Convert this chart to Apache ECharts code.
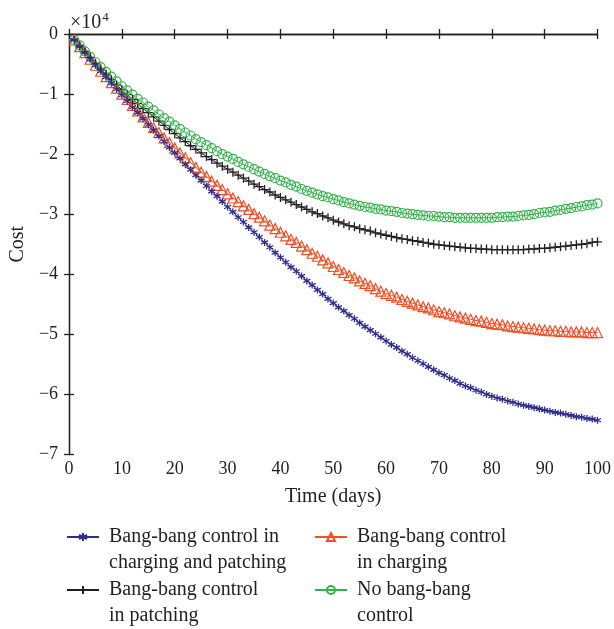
<!DOCTYPE html>
<html>
<head>
<meta charset="utf-8">
<script src="https://cdn.jsdelivr.net/npm/echarts@6/dist/echarts.min.js"></script>
<style>html,body{margin:0;padding:0;background:#fff}#c{width:614px;height:629px}</style>
</head>
<body>
<div id="c"></div>
<script>
// Days 1..100
const days = [1,2,3,4,5,6,7,8,9,10,11,12,13,14,15,16,17,18,19,20,21,22,23,24,25,26,27,28,29,30,31,32,33,34,35,36,37,38,39,40,41,42,43,44,45,46,47,48,49,50,51,52,53,54,55,56,57,58,59,60,61,62,63,64,65,66,67,68,69,70,71,72,73,74,75,76,77,78,79,80,81,82,83,84,85,86,87,88,89,90,91,92,93,94,95,96,97,98,99,100];

// Cost values in units of 10^4
const costChargingPatching = [-0.10,-0.21,-0.31,-0.42,-0.52,-0.62,-0.72,-0.82,-0.92,-1.02,-1.12,-1.22,-1.31,-1.41,-1.51,-1.60,-1.70,-1.79,-1.89,-1.98,-2.07,-2.17,-2.26,-2.35,-2.44,-2.53,-2.62,-2.70,-2.79,-2.88,-2.96,-3.05,-3.13,-3.22,-3.30,-3.38,-3.47,-3.55,-3.64,-3.72,-3.80,-3.88,-3.95,-4.03,-4.11,-4.18,-4.26,-4.33,-4.41,-4.48,-4.55,-4.61,-4.68,-4.74,-4.81,-4.87,-4.93,-4.99,-5.05,-5.11,-5.17,-5.22,-5.28,-5.33,-5.39,-5.44,-5.49,-5.54,-5.59,-5.64,-5.68,-5.73,-5.77,-5.82,-5.86,-5.89,-5.93,-5.96,-6.00,-6.03,-6.06,-6.08,-6.11,-6.13,-6.16,-6.18,-6.20,-6.22,-6.24,-6.26,-6.28,-6.30,-6.31,-6.33,-6.35,-6.37,-6.38,-6.40,-6.41,-6.43];

const costCharging = [-0.10,-0.21,-0.31,-0.42,-0.52,-0.62,-0.71,-0.81,-0.90,-1.00,-1.09,-1.19,-1.28,-1.38,-1.47,-1.56,-1.64,-1.73,-1.81,-1.90,-1.98,-2.06,-2.14,-2.22,-2.30,-2.37,-2.45,-2.52,-2.59,-2.66,-2.73,-2.79,-2.86,-2.92,-2.99,-3.05,-3.11,-3.18,-3.24,-3.30,-3.36,-3.42,-3.47,-3.53,-3.59,-3.65,-3.70,-3.76,-3.81,-3.87,-3.92,-3.97,-4.02,-4.06,-4.11,-4.15,-4.19,-4.24,-4.28,-4.32,-4.35,-4.38,-4.42,-4.45,-4.48,-4.51,-4.54,-4.56,-4.59,-4.62,-4.64,-4.66,-4.69,-4.71,-4.73,-4.75,-4.77,-4.78,-4.80,-4.82,-4.83,-4.84,-4.86,-4.87,-4.88,-4.89,-4.90,-4.91,-4.92,-4.93,-4.94,-4.94,-4.95,-4.95,-4.96,-4.96,-4.96,-4.97,-4.97,-4.97];

const costPatching = [-0.10,-0.20,-0.30,-0.39,-0.49,-0.58,-0.67,-0.76,-0.85,-0.93,-1.01,-1.09,-1.16,-1.24,-1.31,-1.38,-1.45,-1.52,-1.59,-1.66,-1.73,-1.79,-1.86,-1.92,-1.98,-2.04,-2.09,-2.15,-2.20,-2.25,-2.30,-2.35,-2.40,-2.45,-2.50,-2.54,-2.59,-2.63,-2.68,-2.72,-2.76,-2.80,-2.84,-2.88,-2.92,-2.96,-2.99,-3.03,-3.06,-3.10,-3.13,-3.16,-3.19,-3.21,-3.24,-3.26,-3.28,-3.31,-3.33,-3.35,-3.37,-3.39,-3.41,-3.42,-3.44,-3.45,-3.47,-3.48,-3.50,-3.51,-3.52,-3.53,-3.54,-3.55,-3.56,-3.57,-3.57,-3.58,-3.58,-3.59,-3.59,-3.59,-3.59,-3.59,-3.59,-3.59,-3.58,-3.58,-3.57,-3.57,-3.56,-3.55,-3.54,-3.53,-3.52,-3.51,-3.50,-3.49,-3.47,-3.46];

const costNoControl = [-0.10,-0.19,-0.29,-0.38,-0.47,-0.55,-0.63,-0.71,-0.79,-0.87,-0.94,-1.01,-1.08,-1.14,-1.21,-1.27,-1.34,-1.40,-1.46,-1.52,-1.58,-1.64,-1.69,-1.75,-1.80,-1.85,-1.90,-1.95,-2.00,-2.04,-2.08,-2.13,-2.17,-2.21,-2.25,-2.29,-2.33,-2.37,-2.40,-2.44,-2.47,-2.51,-2.54,-2.58,-2.61,-2.64,-2.67,-2.70,-2.72,-2.75,-2.77,-2.80,-2.82,-2.84,-2.86,-2.88,-2.89,-2.91,-2.92,-2.94,-2.95,-2.96,-2.98,-2.99,-3.00,-3.01,-3.02,-3.03,-3.03,-3.04,-3.05,-3.05,-3.06,-3.06,-3.06,-3.06,-3.06,-3.06,-3.06,-3.06,-3.05,-3.05,-3.04,-3.04,-3.03,-3.02,-3.01,-3.00,-2.98,-2.97,-2.96,-2.94,-2.93,-2.91,-2.90,-2.88,-2.87,-2.85,-2.84,-2.82];

const seriesNames = [
  'Bang-bang control in\ncharging and patching',
  'Bang-bang control\nin charging',
  'Bang-bang control\nin patching',
  'No bang-bang\ncontrol'
];
const xTicks = [0,10,20,30,40,50,60,70,80,90,100];
const yTicks = [0,-1,-2,-3,-4,-5,-6,-7];

const FONT = '"Liberation Serif", "DejaVu Serif", serif';
const TXT = '#231f20';
const BLUE = '#2e2d8f', RED = '#f04e23', BLACK = '#231f20', GREEN = '#33b24a';

const ASTERISK = 'path://M5,0L5,10M0.67,2.5L9.33,7.5M9.33,2.5L0.67,7.5';
const PLUS = 'path://M5,0L5,10M0,5L10,5';

function pairs(vals){ return days.map((d,i)=>[d, vals[i]]); }

const chart = echarts.init(document.getElementById('c'), null, {renderer:'canvas'});

const axisLineStyle = {color: TXT, width: 1.3};
function minusFmt(v){ return String(v).replace('-', '\u2212'); }

const legendBase = {
  orient: 'vertical', padding: 0, itemGap: 0, itemWidth: 32, itemHeight: 10,
  textStyle: {fontFamily: FONT, fontSize: 20, color: TXT, lineHeight: 26, padding: [0,0,0,5]},
  formatter: function(n){ return '\n' + n; }
};

const option = {
  animation: false,
  backgroundColor: '#fff',
  textStyle: {fontFamily: FONT},
  title: {
    text: '{a|\u00d710}{b|4}', left: 65, top: 6,
    textStyle: {fontWeight: 'normal', rich: {
      a: {fontFamily: FONT, fontSize: 20, fontWeight: 'normal', color: TXT},
      b: {fontFamily: FONT, fontSize: 13, fontWeight: 'normal', color: TXT, padding: [0,0,11,1]}}}
  },
  legend: [
    Object.assign({}, legendBase, {left: 66, top: 498, data: [seriesNames[0]]}),
    Object.assign({}, legendBase, {left: 66, top: 551, data: [seriesNames[2]]}),
    Object.assign({}, legendBase, {left: 314, top: 498, data: [seriesNames[1]]}),
    Object.assign({}, legendBase, {left: 314, top: 551, data: [seriesNames[3]]})
  ],
  grid: {left: 66.5, right: 14.5, top: 34, bottom: 174.5},
  xAxis: [
    {type: 'value', min: xTicks[0], max: xTicks[xTicks.length-1], interval: 10,
     name: 'Time (days)', nameLocation: 'middle', nameGap: 32,
     nameTextStyle: {fontFamily: FONT, fontSize: 20, color: TXT},
     axisLine: {lineStyle: axisLineStyle}, axisTick: {inside: true, length: 5, lineStyle: axisLineStyle},
     axisLabel: {fontFamily: FONT, fontSize: 18, color: TXT, margin: 6},
     splitLine: {show: false}},
    {type: 'value', position: 'top', min: xTicks[0], max: xTicks[xTicks.length-1], interval: 10,
     axisLine: {lineStyle: axisLineStyle}, axisTick: {inside: true, length: 5, lineStyle: axisLineStyle},
     axisLabel: {show: false}, splitLine: {show: false}}
  ],
  yAxis: [
    {type: 'value', min: yTicks[yTicks.length-1], max: yTicks[0], interval: 1,
     name: 'Cost', nameLocation: 'middle', nameGap: 40, nameRotate: 90,
     nameTextStyle: {fontFamily: FONT, fontSize: 20, color: TXT},
     axisLine: {lineStyle: axisLineStyle}, axisTick: {inside: true, length: 5, lineStyle: axisLineStyle},
     axisLabel: {fontFamily: FONT, fontSize: 18, color: TXT, margin: 11, formatter: minusFmt},
     splitLine: {show: false}},
    {type: 'value', position: 'right', min: yTicks[yTicks.length-1], max: yTicks[0], interval: 1,
     axisLine: {lineStyle: axisLineStyle}, axisTick: {inside: true, length: 5, lineStyle: axisLineStyle},
     axisLabel: {show: false}, splitLine: {show: false}}
  ],
  series: [
    {name: seriesNames[1], type: 'line', data: pairs(costCharging),
     symbol: 'triangle', symbolSize: 10, showAllSymbol: true,
     lineStyle: {color: RED, width: 1}, itemStyle: {color: 'rgba(255,255,255,0)', borderColor: RED, borderWidth: 1.2}},
    {name: seriesNames[2], type: 'line', data: pairs(costPatching),
     symbol: PLUS, symbolSize: 9, showAllSymbol: true,
     lineStyle: {color: BLACK, width: 1}, itemStyle: {color: 'rgba(255,255,255,0)', borderColor: BLACK, borderWidth: 1.3}},
    {name: seriesNames[3], type: 'line', data: pairs(costNoControl),
     symbol: 'circle', symbolSize: 9, showAllSymbol: true,
     lineStyle: {color: GREEN, width: 1}, itemStyle: {color: 'rgba(255,255,255,0)', borderColor: GREEN, borderWidth: 1.2}},
    {name: seriesNames[0], type: 'line', data: pairs(costChargingPatching),
     symbol: ASTERISK, symbolSize: 7, showAllSymbol: true,
     lineStyle: {color: BLUE, width: 1}, itemStyle: {color: 'rgba(255,255,255,0)', borderColor: BLUE, borderWidth: 1.3}}
  ]
};
chart.setOption(option);
</script>
</body>
</html>
